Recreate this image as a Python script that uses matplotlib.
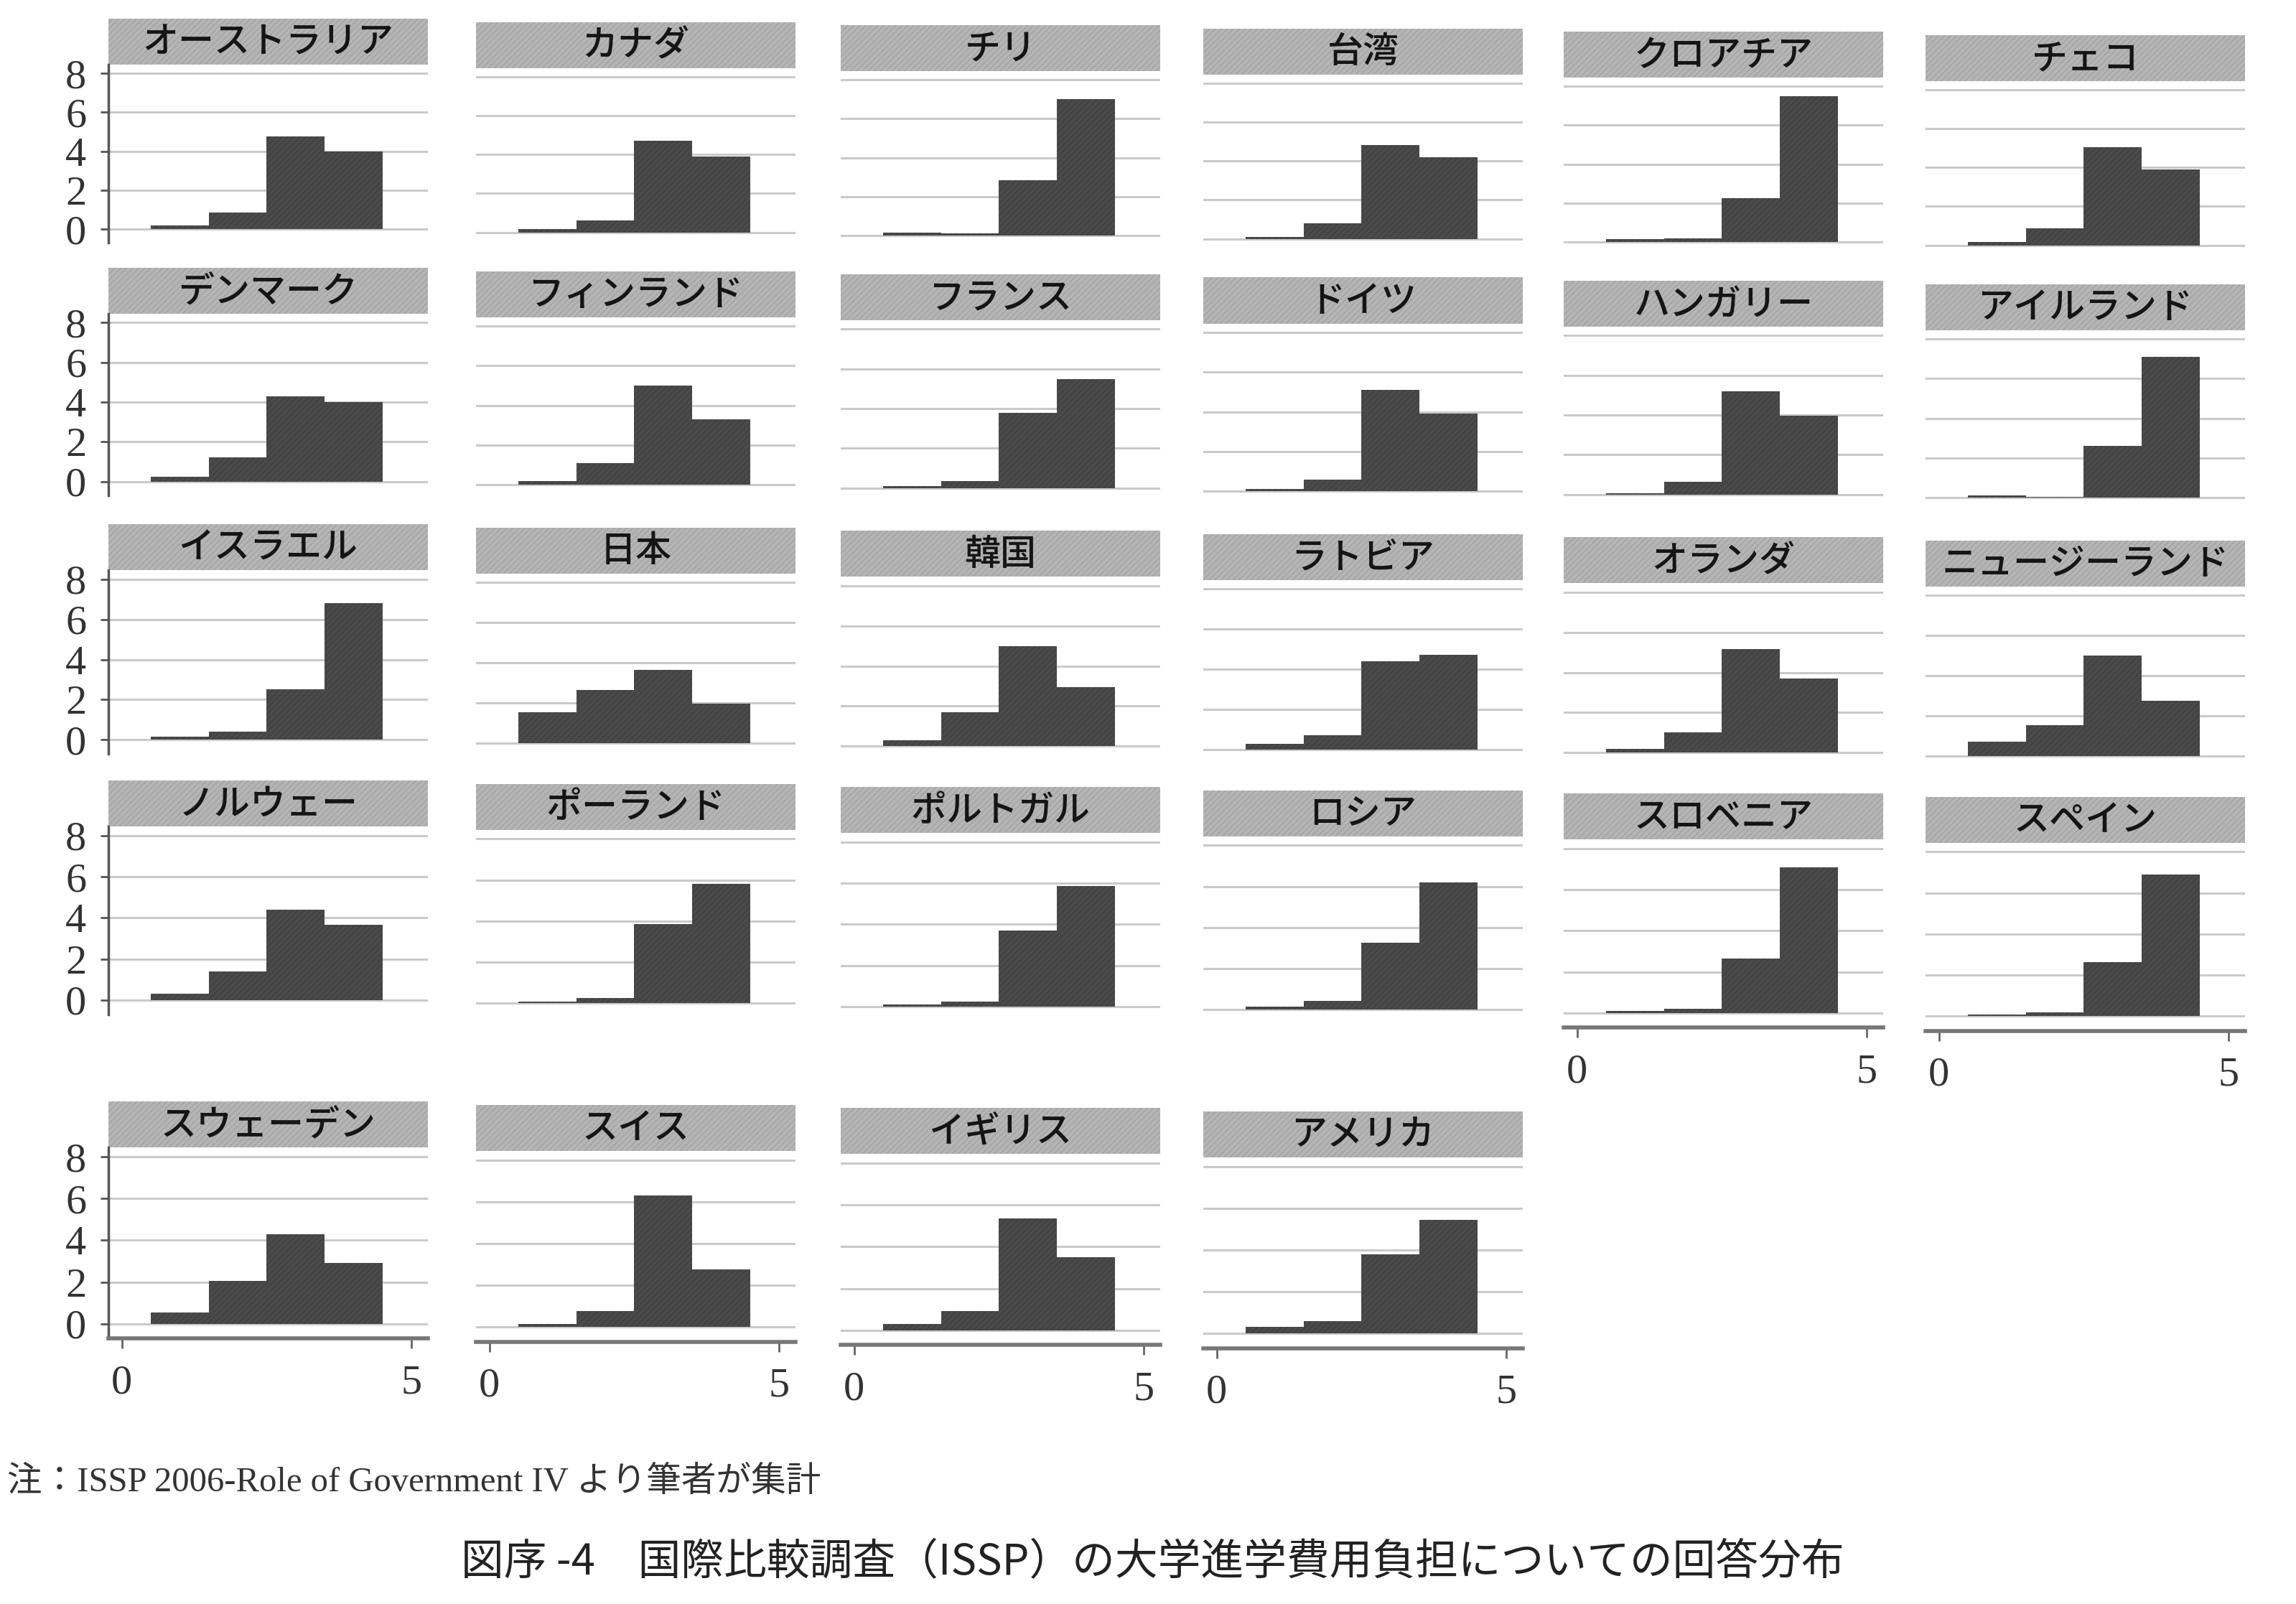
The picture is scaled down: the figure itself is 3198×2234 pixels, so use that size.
import matplotlib
matplotlib.use('Agg')
import matplotlib.pyplot as plt
from matplotlib.patches import Rectangle

plt.rcParams['font.family'] = ['Noto Sans CJK JP', 'DejaVu Sans']

countries = ['オーストラリア', 'カナダ', 'チリ', '台湾', 'クロアチア', 'チェコ',
             'デンマーク', 'フィンランド', 'フランス', 'ドイツ', 'ハンガリー', 'アイルランド',
             'イスラエル', '日本', '韓国', 'ラトビア', 'オランダ', 'ニュージーランド',
             'ノルウェー', 'ポーランド', 'ポルトガル', 'ロシア', 'スロベニア', 'スペイン',
             'スウェーデン', 'スイス', 'イギリス', 'アメリカ']

# height of each of the four answer categories (x = 1..4), same order as countries
q1 = [0.2, 0.15, 0.15, 0.1, 0.15, 0.15,
      0.25, 0.2, 0.1, 0.1, 0.05, 0.1,
      0.15, 1.55, 0.3, 0.3, 0.2, 0.7,
      0.3, 0.1, 0.1, 0.15, 0.1, 0.1,
      0.55, 0.15, 0.3, 0.3]
q2 = [0.85, 0.6, 0.1, 0.8, 0.2, 0.85,
      1.2, 1.1, 0.35, 0.6, 0.65, 0.05,
      0.4, 2.65, 1.7, 0.7, 1.0, 1.55,
      1.4, 0.25, 0.25, 0.45, 0.2, 0.2,
      2.05, 0.75, 0.9, 0.6]
q3 = [4.75, 4.7, 2.85, 4.8, 2.25, 5.05,
      4.3, 5.0, 3.8, 5.1, 5.2, 2.6,
      2.5, 3.65, 5.0, 4.4, 5.15, 5.0,
      4.4, 3.85, 3.7, 3.25, 2.65, 2.65,
      4.3, 6.3, 5.35, 3.8]
q4 = [4.0, 3.9, 7.0, 4.2, 7.5, 3.9,
      4.0, 3.3, 5.5, 3.9, 3.95, 7.1,
      6.8, 1.95, 2.95, 4.7, 3.7, 2.75,
      3.65, 5.8, 5.85, 6.2, 7.1, 6.9,
      2.9, 2.75, 3.5, 5.45]

answers = [1, 2, 3, 4]
yticks = [0, 2, 4, 6, 8]
xticks = [0, 5]

note = '注：ISSP 2006-Role of Government IV より筆者が集計'
caption = '図序 -4　国際比較調査（ISSP）の大学進学費用負担についての回答分布'

W, H = 3198, 2234
fig = plt.figure(figsize=(W / 100, H / 100), dpi=100)

col_left = [151, 663, 1171, 1676, 2178, 2682]
row_top = [26, 373, 730, 1087, 1534]
plot_h = [248, 253, 256, 262, 266]
title_h = 64
panel_w = 445
skew = 4.5  # the scanned page is a little rotated


def rect(x, y, w, h):
    return [x / W, 1 - (y + h) / H, w / W, h / H]


serif = ['Liberation Serif', 'DejaVu Serif']

for i, name in enumerate(countries):
    r, c = divmod(i, 6)
    x = col_left[c]
    y0 = row_top[r] + skew * c

    # title strip
    tax = fig.add_axes(rect(x, y0, panel_w, title_h))
    tax.set_axis_off()
    tax.add_patch(Rectangle((0, 0), 1, 1, transform=tax.transAxes,
                            facecolor='#b5b5b5', edgecolor='#a2a2a2',
                            hatch='////', lw=0))
    tax.text(0.5, 0.47, name, ha='center', va='center', fontsize=36,
             color='#151515', fontweight='medium')

    ax = fig.add_axes(rect(x, y0 + title_h, panel_w, plot_h[r]))
    vals = [q1[i], q2[i], q3[i], q4[i]]
    ax.bar(answers, vals, width=1.0, color='#4a4a4a', edgecolor='#404040',
           hatch='////', lw=0, zorder=2)
    ax.set_xlim(-0.23, 5.28)
    ax.set_ylim(-0.7, 8.45)
    ax.set_yticks(yticks)
    ax.grid(axis='y', color='#cacaca', lw=2.2, zorder=0)
    ax.set_axisbelow(True)
    for s in ax.spines.values():
        s.set_visible(False)

    if c == 0:
        ax.spines['left'].set_visible(True)
        ax.spines['left'].set_color('#555555')
        ax.spines['left'].set_linewidth(2.5)
        ax.tick_params(axis='y', length=8, width=2, color='#555555', pad=14,
                       labelsize=42, labelcolor='#333333')
        for lab in ax.get_yticklabels():
            lab.set_family(serif)
    else:
        ax.tick_params(axis='y', left=False, labelleft=False)

    has_x = r == 4 or (r == 3 and c >= 4)
    if has_x:
        ax.spines['bottom'].set_visible(True)
        ax.spines['bottom'].set_color('#777777')
        ax.spines['bottom'].set_linewidth(4)
        ax.set_xticks(xticks)
        ax.tick_params(axis='x', length=10, width=2, color='#666666', pad=16,
                       labelsize=42, labelcolor='#333333')
        for lab in ax.get_xticklabels():
            lab.set_family(serif)
    else:
        ax.set_xticks([])

fig.text(0.003, 0.076, note, ha='left', va='center', fontsize=35,
         color='#333333', family=['Liberation Serif', 'Noto Sans CJK JP'])
fig.text(0.502, 0.026, caption, ha='center', va='center', fontsize=43,
         color='#222222')

fig.savefig('out.png', dpi=100, facecolor='white')
